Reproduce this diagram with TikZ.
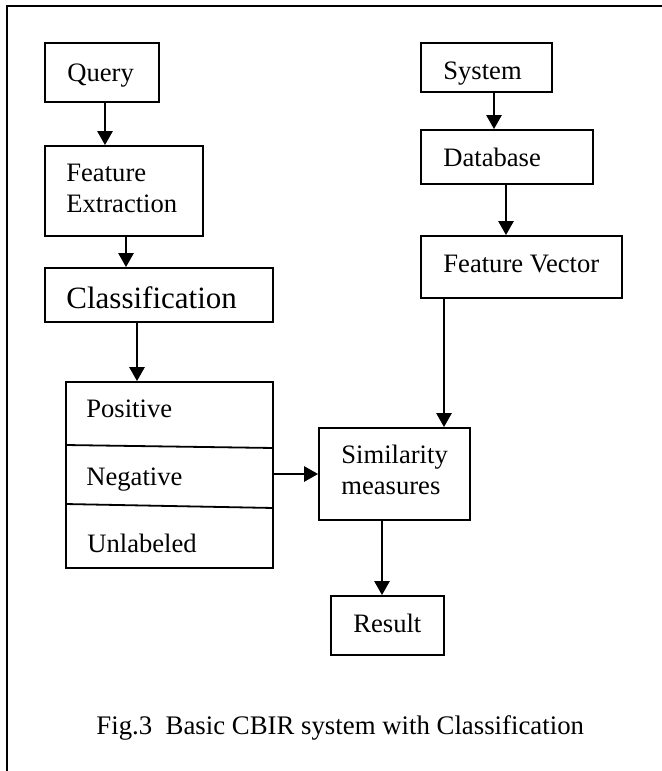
\documentclass[tikz,border=0pt]{standalone}
\usepackage{fontspec}
\setmainfont{Liberation Serif}
\usetikzlibrary{arrows.meta}
\begin{document}
\begin{tikzpicture}[x=0.5pt,y=-0.5pt,
  box/.style={draw, line width=0.9pt, rectangle, inner sep=0pt},
  txt/.style={anchor=base west, inner sep=0pt, font=\fontsize{13.3}{15}\selectfont},
  arr/.style={line width=1.3pt, -{Triangle[length=7pt,width=7.5pt]}},
  frame/.style={line width=1.1pt, line join=miter}
]
\useasboundingbox (0,0) rectangle (662,771);
% outer frame (partial)
\draw[frame] (7,771) -- (7,6) -- (662,6);

% boxes
\node[box, minimum width=57pt,  minimum height=29.5pt] (q)   at (102,72.5) {};
\node[box, minimum width=79pt,  minimum height=45pt]   (fe)  at (124,191) {};
\node[box, minimum width=114pt, minimum height=27pt]   (cl)  at (159,295) {};
\node[box, minimum width=103.5pt, minimum height=93pt] (lst) at (169.5,475) {};
\node[box, minimum width=75.5pt, minimum height=46pt]  (sim) at (394.5,474) {};
\node[box, minimum width=65.5pt, minimum height=24.5pt] (sys) at (486.5,67.5) {};
\node[box, minimum width=86pt,  minimum height=27pt]   (db)  at (507,157) {};
\node[box, minimum width=100.5pt, minimum height=31pt] (fv)  at (521.5,267) {};
\node[box, minimum width=56.5pt, minimum height=29.5pt] (res) at (387.5,625.5) {};

% dividers inside the list box
\draw[line width=0.9pt] (lst.west |- 0,445) -- (lst.east |- 0,448);
\draw[line width=0.9pt] (lst.west |- 0,504) -- (lst.east |- 0,508);

% texts
\node[txt] (tq)   at (67,81)   {Query};
\node[txt] (tfe1) at (66,181)  {Feature};
\node[txt] (tfe2) at (66,212)  {Extraction};
\node[txt, font=\fontsize{15.5}{17}\selectfont] (tcl) at (66,308) {Classification};
\node[txt] (tpos) at (86,417)  {Positive};
\node[txt] (tneg) at (86,485)  {Negative};
\node[txt] (tunl) at (87,552)  {Unlabeled};
\node[txt] (tsi1) at (341,463) {Similarity};
\node[txt] (tsi2) at (341,494) {measures};
\node[txt] (tsys) at (443,79)  {System};
\node[txt] (tdb)  at (443,166) {Database};
\node[txt] (tfv)  at (443,272) {Feature Vector};
\node[txt] (tres) at (353,632) {Result};
\node[txt, font=\fontsize{13.4}{15}\selectfont] (cap) at (96,734) {Fig.3\ \ Basic CBIR system with Classification};

% arrow x positions
\coordinate (x1) at (105,0);
\coordinate (x2) at (126,0);
\coordinate (x3) at (137,0);
\coordinate (x4) at (494,0);
\coordinate (x5) at (506,0);
\coordinate (x6) at (444,0);
\coordinate (x7) at (382,0);

% connectors
\draw[arr] (q.south -| x1)   -- (fe.north -| x1);
\draw[arr] (fe.south -| x2)  -- (cl.north -| x2);
\draw[arr] (cl.south -| x3)  -- (lst.north -| x3);
\draw[arr] (lst.east |- sim.west) -- (sim.west);
\draw[arr] (sys.south -| x4) -- (db.north -| x4);
\draw[arr] (db.south -| x5)  -- (fv.north -| x5);
\draw[arr] (fv.south -| x6)  -- (sim.north -| x6);
\draw[arr] (sim.south -| x7) -- (res.north -| x7);
\end{tikzpicture}
\end{document}
